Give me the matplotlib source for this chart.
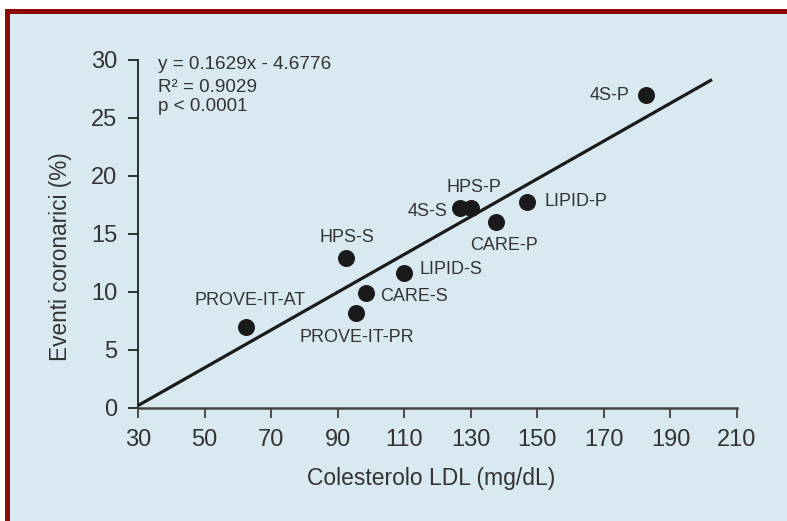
import matplotlib
matplotlib.use("Agg")
import matplotlib.pyplot as plt
from matplotlib.patches import Rectangle

plt.rcParams['font.family'] = ['Liberation Sans', 'DejaVu Sans']

# studies: LDL cholesterol (mg/dL) vs coronary events (%)
studies = ['PROVE-IT-AT', 'HPS-S', 'PROVE-IT-PR', 'CARE-S', 'LIPID-S',
           '4S-S', 'HPS-P', 'CARE-P', 'LIPID-P', '4S-P']
ldl = [62.5, 92.5, 95.5, 98.5, 110.0, 126.8, 130.0, 137.7, 146.8, 182.6]
events = [7.0, 12.9, 8.2, 9.9, 11.6, 17.2, 17.2, 16.0, 17.8, 27.0]

# label placement (x, y, horizontal alignment)
label_pos = [(63.7, 9.3, 'center'), (92.8, 14.7, 'center'), (95.8, 6.1, 'center'),
             (102.7, 9.6, 'left'), (114.7, 11.9, 'left'), (122.9, 16.9, 'right'),
             (131.0, 19.0, 'center'), (140.0, 14.05, 'center'), (152.3, 17.8, 'left'),
             (177.8, 26.9, 'right')]

slope, intercept = 0.1629, -4.6776
fit_x = [30, 202.5]
eq_lines = ['y = 0.1629x - 4.6776', 'R\u00b2 = 0.9029', 'p < 0.0001']

x_ticks = [30, 50, 70, 90, 110, 130, 150, 170, 190, 210]
y_ticks = [0, 5, 10, 15, 20, 25, 30]

bg = '#d8e9f2'
red = '#8c0a05'
txt = '#333333'

W, H = 787, 521
fig = plt.figure(figsize=(W / 100, H / 100), dpi=100)
fig.patch.set_facecolor('white')

# frame: light blue panel with dark red band on top and left
fig.patches.append(Rectangle((5 / W, 0), 1, 1 - 9 / H, transform=fig.transFigure,
                             facecolor=red, edgecolor='none', zorder=-2))
fig.patches.append(Rectangle((10 / W, 0), 1, 1 - 14 / H, transform=fig.transFigure,
                             facecolor=bg, edgecolor='none', zorder=-1))

ax = fig.add_axes([138 / W, (H - 408) / H, (737 - 138) / W, (408 - 60) / H])
ax.set_facecolor('none')
ax.set_zorder(1)
ax.set_xlim(30, 210)
ax.set_ylim(0, 30)

ax.plot(fit_x, [slope * v + intercept for v in fit_x], color='#1a1a1a', lw=2.3,
        solid_capstyle='butt', zorder=2, clip_on=False)
ax.scatter(ldl, events, s=150, color='#1a1a1a', zorder=3, linewidths=0)

for name, (lx, ly, ha) in zip(studies, label_pos):
    ax.text(lx, ly, name, ha=ha, va='center', fontsize=13, color=txt)

for i, line in enumerate(eq_lines):
    ax.text(36.0, [29.57, 27.67, 25.95][i], line, ha='left', va='center',
            fontsize=13.6, color=txt)

for s in ['top', 'right']:
    ax.spines[s].set_visible(False)
ax.spines['left'].set_color('#111111')
ax.spines['left'].set_linewidth(1.2)
ax.spines['bottom'].set_color('#444444')
ax.spines['bottom'].set_linewidth(1.8)

ax.set_xticks(x_ticks)
ax.set_yticks(y_ticks)
ax.tick_params(axis='y', direction='out', length=7, width=1.2, color='#111111',
               labelsize=17, labelcolor=txt, pad=8)
ax.tick_params(axis='x', direction='out', length=7, width=1.2, color='#333333',
               labelsize=17, labelcolor=txt, pad=8)

fig.text(431 / W, 1 - 478 / H, 'Colesterolo LDL (mg/dL)', ha='center', va='center',
         fontsize=16.5, color=txt)
fig.text(60 / W, 1 - 257 / H, 'Eventi coronarici (%)', ha='center', va='center',
         rotation=90, fontsize=16.3, color=txt)

fig.savefig('out.png', dpi=100)
